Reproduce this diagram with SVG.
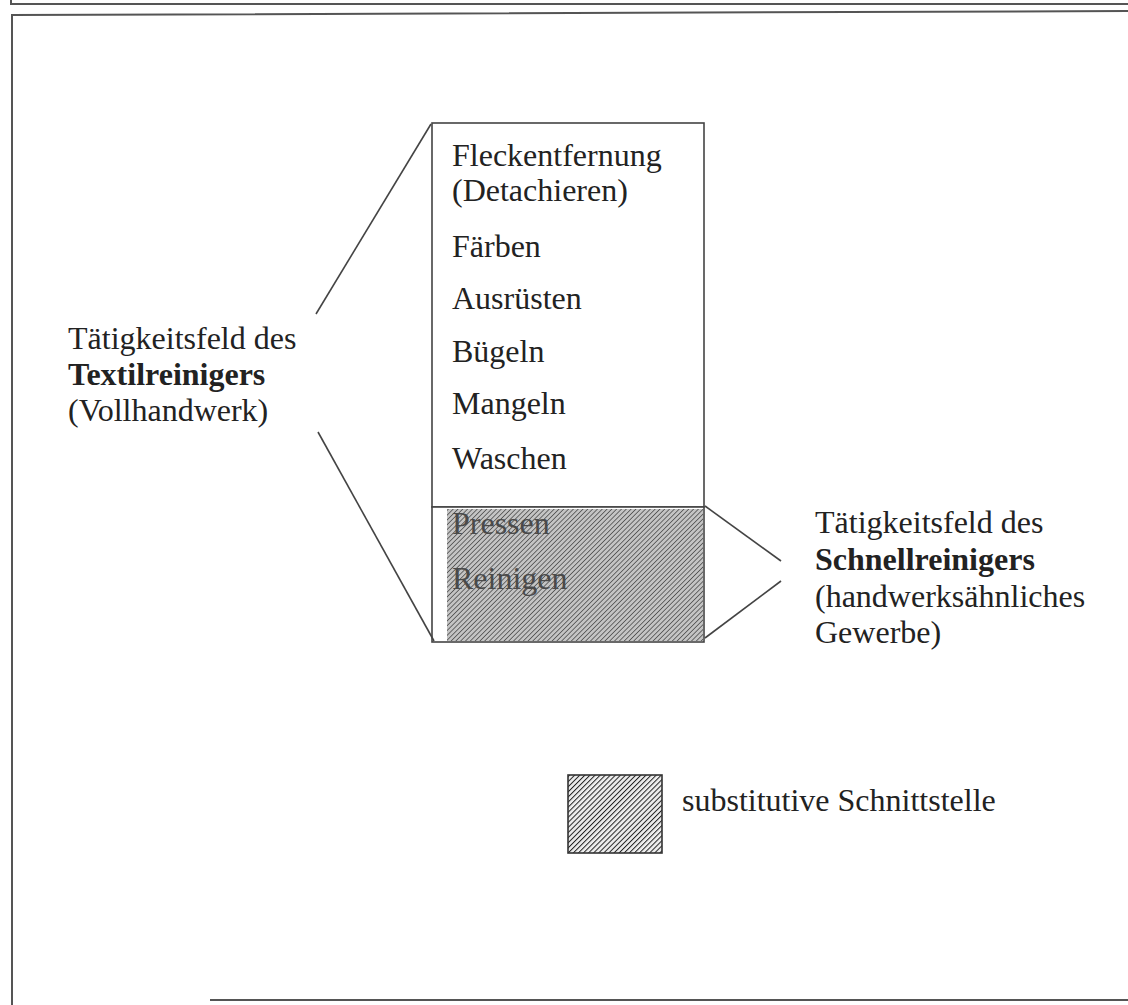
<svg xmlns="http://www.w3.org/2000/svg" width="1128" height="1005" viewBox="0 0 1128 1005">
<style>
.t{font-family:"Liberation Serif","Times New Roman",serif;font-size:32px;fill:#222}
.b{font-weight:bold}
.h{fill:#4a4a4a}
.ln{stroke:#444;stroke-width:1.6;fill:none}
.fr{stroke:#555;stroke-width:2;fill:none}
</style>
<defs>
<pattern id="hatch1" patternUnits="userSpaceOnUse" width="3.4" height="3.4" patternTransform="rotate(45)">
<rect width="3.4" height="3.4" fill="#c4c4c4"/>
<line x1="0" y1="0" x2="0" y2="3.4" stroke="#555" stroke-width="1.7"/>
</pattern>
<pattern id="hatch2" patternUnits="userSpaceOnUse" width="3.6" height="3.6" patternTransform="rotate(45)">
<rect width="3.6" height="3.6" fill="#eee"/>
<line x1="0" y1="0" x2="0" y2="3.6" stroke="#222" stroke-width="2"/>
</pattern>
</defs>
<rect width="1128" height="1005" fill="#fff"/>
<g id="frame">
<polyline class="fr" points="11,0 11,4 1128,4"/>
<polyline class="fr" points="12,1005 12,15 1128,11"/>
<line class="fr" x1="210" y1="1000" x2="1128" y2="1000"/>
</g>
<g id="box">
<rect x="432" y="123" width="272" height="384" fill="#fff" stroke="#444" stroke-width="1.6"/>
<rect x="432" y="507" width="272" height="135" fill="#fff" stroke="#444" stroke-width="1.6"/>
<rect x="447" y="509" width="256" height="132" fill="url(#hatch1)"/>
<text class="t" x="452" y="166">Fleckentfernung</text>
<text class="t" x="452" y="201">(Detachieren)</text>
<text class="t" x="452" y="257">Färben</text>
<text class="t" x="452" y="309">Ausrüsten</text>
<text class="t" x="452" y="362">Bügeln</text>
<text class="t" x="452" y="414">Mangeln</text>
<text class="t" x="452" y="469">Waschen</text>
<text class="t h" x="452" y="534">Pressen</text>
<text class="t h" x="452" y="589">Reinigen</text>
</g>
<g id="textilreiniger">
<text class="t" x="68" y="349">Tätigkeitsfeld des</text>
<text class="t b" x="68" y="385">Textilreinigers</text>
<text class="t" x="68" y="421">(Vollhandwerk)</text>
</g>
<g id="schnellreiniger">
<text class="t" x="815" y="533">Tätigkeitsfeld des</text>
<text class="t b" x="815" y="570">Schnellreinigers</text>
<text class="t" x="815" y="607">(handwerksähnliches</text>
<text class="t" x="815" y="643">Gewerbe)</text>
</g>
<g id="legend">
<rect x="568" y="775" width="94" height="78" fill="url(#hatch2)" stroke="#333" stroke-width="1.6"/>
<text class="t" x="682" y="811">substitutive Schnittstelle</text>
</g>
<g id="connectors">
<line class="ln" x1="431" y1="124" x2="316" y2="314"/>
<line class="ln" x1="318" y1="432" x2="434" y2="641"/>
<line class="ln" x1="705" y1="506" x2="781" y2="561"/>
<line class="ln" x1="781" y1="581" x2="705" y2="638"/>
</g>
</svg>
